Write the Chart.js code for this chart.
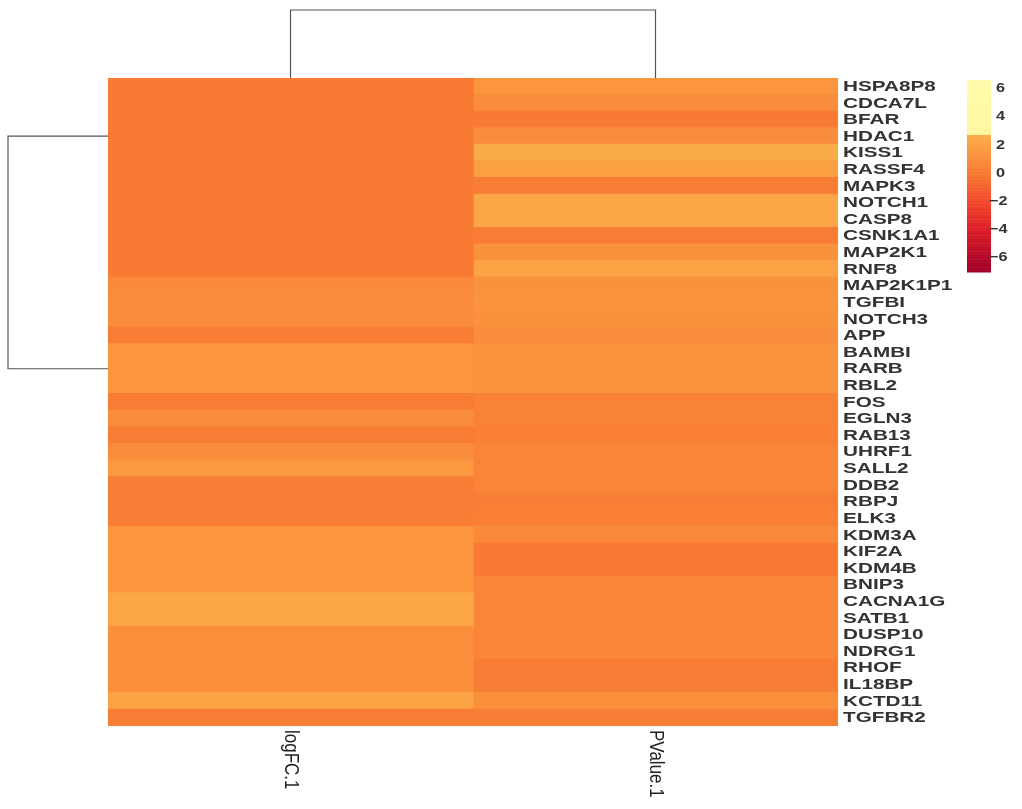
<!DOCTYPE html>
<html>
<head>
<meta charset="utf-8">
<script src="https://cdn.jsdelivr.net/npm/chart.js@4.4.1/dist/chart.umd.min.js"></script>
<style>
  html, body { margin: 0; padding: 0; background: #fff; }
</style>
</head>
<body>
<canvas id="heatmap" width="1022" height="809"></canvas>
<script>
// Data
const genes = ['HSPA8P8', 'CDCA7L', 'BFAR', 'HDAC1', 'KISS1', 'RASSF4', 'MAPK3', 'NOTCH1', 'CASP8',
    'CSNK1A1', 'MAP2K1', 'RNF8', 'MAP2K1P1', 'TGFBI', 'NOTCH3', 'APP', 'BAMBI', 'RARB', 'RBL2',
    'FOS', 'EGLN3', 'RAB13', 'UHRF1', 'SALL2', 'DDB2', 'RBPJ', 'ELK3', 'KDM3A', 'KIF2A', 'KDM4B',
    'BNIP3', 'CACNA1G', 'SATB1', 'DUSP10', 'NDRG1', 'RHOF', 'IL18BP', 'KCTD11', 'TGFBR2'];
const columns = ['logFC.1', 'PValue.1'];
const logFC = [0.0, 0.0, 0.0, 0.0, 0.0, 0.0, 0.0, 0.0, 0.0, 0.0, 0.0, 0.0,
    0.9, 1.0, 1.0, 0.1, 1.5, 1.5, 1.5, 0.1, 1.0, 0.1, 1.0, 1.6, 0.2, 0.2, 0.2,
    1.5, 1.5, 1.5, 1.5, 2.4, 2.4, 1.1, 1.1, 1.1, 1.1, 2.2, 0.2];
const pValue = [1.5, 1.0, 0.0, 1.0, 2.6, 2.0, 0.1, 2.4, 2.4, 0.1, 1.2, 2.2,
    1.2, 1.4, 1.3, 1.0, 1.4, 1.4, 1.4, 0.4, 0.4, 0.3, 0.5, 0.6, 0.5, 0.2, 0.3,
    0.8, 0.0, 0.0, 0.6, 0.7, 0.7, 0.6, 0.5, 0.1, 0.2, 1.1, 0.2];
const legendTicks = [6, 4, 2, 0, -2, -4, -6];
const legendRange = [-7, 6.6];
const colorStops = [
    [-7, '#a0002a'], [-4, '#dc1c26'], [-2, '#f2492b'], [0, '#f97a33'], [1, '#fa8d3b'],
    [2, '#fb9f43'], [2.7, '#fcad4a'], [2.7001, '#fff7a0'], [6.6, '#fffcaa']
];
// dendrogram leaves: columns 0/1, rows at category index
const colTree = [0, 1];
const rowTree = [3, 17];

function hexToRgb(h) {
    return [parseInt(h.slice(1, 3), 16), parseInt(h.slice(3, 5), 16), parseInt(h.slice(5, 7), 16)];
}

function heatColor(v) {
    if (v <= colorStops[0][0]) return colorStops[0][1];
    for (let i = 1; i < colorStops.length; i++) {
        const [v1, c1] = colorStops[i];
        const [v0, c0] = colorStops[i - 1];
        if (v <= v1) {
            const t = (v - v0) / (v1 - v0);
            const a = hexToRgb(c0), b = hexToRgb(c1);
            const rgb = a.map((x, k) => Math.round(x + (b[k] - x) * t));
            return `rgb(${rgb[0]}, ${rgb[1]}, ${rgb[2]})`;
        }
    }
    return colorStops[colorStops.length - 1][1];
}

// Extra drawing: dendrograms, labels, colour key
const heatmapExtras = {
    id: 'heatmapExtras',
    afterDraw(chart) {
        const ctx = chart.ctx;
        const area = chart.chartArea;
        const xs = chart.scales.x;
        const ys = chart.scales.y;

        ctx.save();
        ctx.strokeStyle = '#555';
        ctx.lineWidth = 1.2;

        // top dendrogram
        const cx = colTree.map(c => xs.getPixelForValue(c + 0.5));
        ctx.beginPath();
        ctx.moveTo(cx[0], area.top);
        ctx.lineTo(cx[0], 10);
        ctx.lineTo(cx[1], 10);
        ctx.lineTo(cx[1], area.top);
        ctx.stroke();

        // left dendrogram
        const ry = rowTree.map(r => ys.getPixelForValue(r));
        ctx.beginPath();
        ctx.moveTo(area.left, ry[0]);
        ctx.lineTo(8, ry[0]);
        ctx.lineTo(8, ry[1]);
        ctx.lineTo(area.left, ry[1]);
        ctx.stroke();

        // row labels (the original is stretched sideways)
        ctx.fillStyle = '#333';
        ctx.font = 'bold 15px "Liberation Sans", Arial, sans-serif';
        ctx.textAlign = 'left';
        ctx.textBaseline = 'middle';
        genes.forEach((g, i) => {
            ctx.save();
            ctx.translate(area.right + 5, ys.getPixelForValue(i) + 0.5);
            ctx.scale(1.38, 1);
            ctx.fillText(g, 0, 0);
            ctx.restore();
        });

        // column labels, rotated
        ctx.fillStyle = '#222';
        ctx.font = '17px "Liberation Sans", Arial, sans-serif';
        columns.forEach((name, i) => {
            ctx.save();
            ctx.translate(xs.getPixelForValue(i + 0.5), area.bottom + 4);
            ctx.rotate(Math.PI / 2);
            ctx.scale(1, 1.15);
            ctx.fillText(name, 0, 0);
            ctx.restore();
        });

        // colour key
        const keyX = 967, keyW = 24, keyTop = 80, keyBottom = 272;
        const yOf = v => keyBottom - (v - legendRange[0]) / (legendRange[1] - legendRange[0]) * (keyBottom - keyTop);
        const steps = 120;
        for (let s = 0; s < steps; s++) {
            const v0 = legendRange[0] + (legendRange[1] - legendRange[0]) * s / steps;
            const v1 = legendRange[0] + (legendRange[1] - legendRange[0]) * (s + 1) / steps;
            ctx.fillStyle = heatColor((v0 + v1) / 2);
            ctx.fillRect(keyX, yOf(v1), keyW, yOf(v0) - yOf(v1) + 0.5);
        }
        ctx.fillStyle = '#333';
        ctx.font = 'bold 13px "Liberation Sans", Arial, sans-serif';
        legendTicks.forEach(t => {
            const label = t < 0 ? '\u2212' + Math.abs(t) : String(t);
            ctx.save();
            ctx.translate(t < 0 ? 989 : 996, yOf(t));
            ctx.scale(1.25, 1);
            ctx.fillText(label, 0, 0);
            ctx.restore();
        });
        ctx.restore();
    }
};

const ctx = document.getElementById('heatmap').getContext('2d');
const heatChart = new Chart(ctx, {
    type: 'bar',
    data: {
        labels: genes,
        datasets: [
            {
                label: columns[0],
                data: genes.map(() => 1),
                backgroundColor: logFC.map(heatColor),
                borderWidth: 0,
                inflateAmount: 0.6,
                barPercentage: 1,
                categoryPercentage: 1
            },
            {
                label: columns[1],
                data: genes.map(() => 1),
                backgroundColor: pValue.map(heatColor),
                borderWidth: 0,
                inflateAmount: 0.6,
                barPercentage: 1,
                categoryPercentage: 1
            }
        ]
    },
    options: {
        indexAxis: 'y',
        responsive: false,
        animation: false,
        devicePixelRatio: 1,
        layout: {
            padding: { left: 108, top: 78, right: 74, bottom: 83 }
        },
        plugins: {
            legend: { display: false },
            tooltip: { enabled: false }
        },
        scales: {
            x: {
                stacked: true,
                min: 0,
                max: 2,
                display: false
            },
            y: {
                stacked: true,
                position: 'right',
                grid: { display: false, drawTicks: false },
                border: { display: false },
                ticks: { display: false },
                afterFit(scale) {
                    scale.width = 110;
                }
            }
        }
    },
    plugins: [heatmapExtras]
});
</script>
</body>
</html>
